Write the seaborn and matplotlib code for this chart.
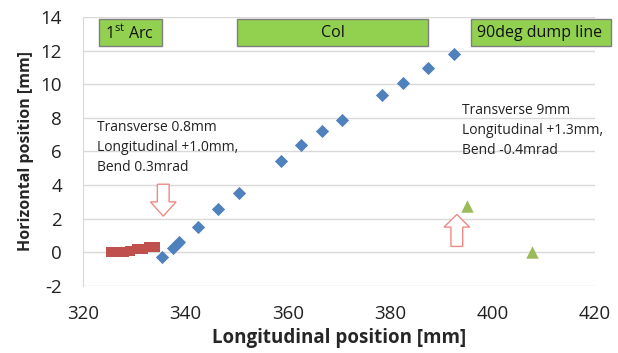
import pandas as pd
import matplotlib.pyplot as plt
import seaborn as sns
from matplotlib.patches import FancyArrow, Rectangle

# data
col_x = [335.4, 337.6, 338.8, 342.5, 346.4, 350.5, 358.7, 362.6, 366.7, 370.6,
         378.4, 382.5, 387.4, 392.5]
col_y = [-0.3, 0.25, 0.6, 1.5, 2.55, 3.5, 5.45, 6.4, 7.2, 7.85,
         9.35, 10.05, 10.95, 11.8]
arc_x = [325.5, 326.8, 328.0, 329.3, 330.6, 331.8, 333.0, 334.0]
arc_y = [0.0, 0.02, 0.04, 0.06, 0.2, 0.22, 0.3, 0.32]
dump_x = [395.0, 407.7]
dump_y = [2.75, 0.0]

sections = ['1$^{\\mathrm{st}}$ Arc', 'Col', '90deg dump line']
section_start = [323.1, 350.0, 395.8]
section_end = [335.4, 387.4, 423.0]

note_left = 'Transverse 0.8mm\nLongitudinal +1.0mm,\nBend 0.3mrad'
note_right = 'Transverse 9mm\nLongitudinal +1.3mm,\nBend -0.4mrad'

df = pd.concat([
    pd.DataFrame({'x': arc_x, 'y': arc_y, 'part': 'arc'}),
    pd.DataFrame({'x': col_x, 'y': col_y, 'part': 'col'}),
    pd.DataFrame({'x': dump_x, 'y': dump_y, 'part': 'dump'}),
])

sns.set_style('white')
plt.rcParams['font.family'] = ['Open Sans', 'DejaVu Sans']
plt.rcParams['mathtext.fontset'] = 'custom'
plt.rcParams['mathtext.rm'] = 'Open Sans'
plt.rcParams['axes.unicode_minus'] = False

fig = plt.figure(figsize=(6.18, 3.53), dpi=100)
ax = fig.add_axes([0.134, 0.19, 0.829, 0.762])

palette = {'arc': '#C0504D', 'col': '#4F81BD', 'dump': '#9BBB59'}
markers = {'arc': 's', 'col': 'D', 'dump': '^'}
sizes = {'arc': 55, 'col': 45, 'dump': 80}
for part, sub in df.groupby('part'):
    sns.scatterplot(data=sub, x='x', y='y', color=palette[part], marker=markers[part],
                    s=sizes[part], linewidth=0, ax=ax, zorder=3, legend=False)

ax.set_xlim(320, 420)
ax.set_ylim(-2, 14)
ax.set_xticks(range(320, 421, 20))
ax.set_yticks(range(-2, 15, 2))
ax.yaxis.grid(True, color='#D9D9D9', linewidth=1)
ax.xaxis.grid(False)
for s in ['top', 'right', 'bottom']:
    ax.spines[s].set_visible(False)
ax.spines['left'].set_color('#D9D9D9')
ax.tick_params(axis='both', length=0, labelsize=13.5, colors='#222222')
ax.tick_params(axis='y', pad=15)
ax.tick_params(axis='x', pad=14)
ax.set_xlabel('Longitudinal position [mm]', fontsize=13.5, fontweight='bold', labelpad=3)
ax.set_ylabel('Horizontal position [mm]', fontsize=11.5, fontweight='bold', labelpad=5)

# section boxes on top
for name, x0, x1 in zip(sections, section_start, section_end):
    ax.add_patch(Rectangle((x0, 12.26), x1 - x0, 1.6, facecolor='#92D050',
                           edgecolor='#7F7F7F', linewidth=1, clip_on=False, zorder=4))
    tx = 366.5 if name == 'Col' else x0 + 1.2
    ax.text(tx, 13.06, name, fontsize=11.5, va='center', ha='left',
            color='#111111', zorder=5, clip_on=False)

ax.text(322.7, 7.85, note_left, fontsize=10, va='top', ha='left', linespacing=1.45,
        color='#222222', zorder=5)
ax.text(394.0, 8.9, note_right, fontsize=10, va='top', ha='left', linespacing=1.45,
        color='#222222', zorder=5)

arrow_kw = dict(length_includes_head=True, facecolor='white', edgecolor='#EE8A86',
                linewidth=1, zorder=4)
ax.add_patch(FancyArrow(335.7, 4.05, 0, -1.9, width=2.3, head_width=5.0,
                        head_length=0.85, **arrow_kw))
ax.add_patch(FancyArrow(393.0, 0.35, 0, 1.9, width=2.3, head_width=5.0,
                        head_length=0.75, **arrow_kw))

plt.savefig('out.png', dpi=100)
